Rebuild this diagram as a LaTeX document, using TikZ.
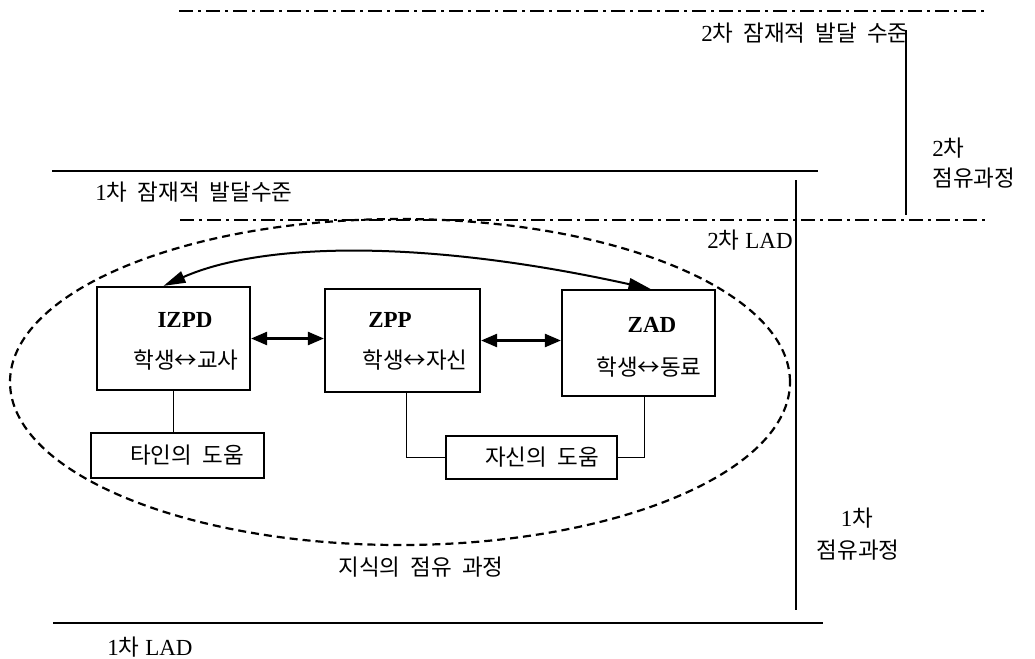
\documentclass[tikz,border=0pt]{standalone}
\usepackage{fontspec}
\setmainfont{Liberation Serif}
\newfontfamily\kr[WordSpace=2]{Noto Sans CJK KR}
\newcommand{\K}[1]{{\kr\fontsize{11.25}{14}\selectfont #1}}
\usetikzlibrary{arrows.meta}
\begin{document}
\begin{tikzpicture}[x=0.5pt,y=-0.5pt,
  every node/.style={font=\fontsize{11.5}{14}\selectfont, inner sep=0pt},
  boxstyle/.style={draw, line width=1.1pt, inner sep=0pt},
  lvl/.style={line width=1pt},
  dashdot/.style={line width=1pt, dash pattern=on 7pt off 2.5pt on 1.5pt off 2.5pt},
  dblarrow/.style={line width=1.2pt, {Triangle[length=8pt,width=6.5pt]}-{Triangle[length=8pt,width=6.5pt]}},
  curvearrow/.style={line width=1pt, {Triangle[length=11pt,width=6pt]}-{Triangle[length=11pt,width=6pt]}},
  helpline/.style={line width=0.8pt},
  zone/.style={line width=1.1pt, dash pattern=on 4pt off 2.5pt}
]
\useasboundingbox (0,0) rectangle (1035,659);

% level lines
\draw[dashdot] (179,11) -- (989,11);
\draw[lvl] (906,30) -- (906,215);
\draw[lvl] (52,171) -- (818,171);
\draw[dashdot] (180,220) -- (989,220);
\draw[lvl] (796,180) -- (796,610);
\draw[lvl] (53,623) -- (823,623);

% ellipse
\draw[zone] (400,382) ellipse [x radius=195pt, y radius=81.5pt];

% labels
\node (l2lvl) at (805,33) {2\K{차 잠재적 발달 수준}};
\node[anchor=west] (l2a) at (932,148) {2\K{차}};
\node[anchor=west] (l2b) at (932,178) {\K{점유과정}};
\node[anchor=west] (l1lvl) at (95,192) {1\K{차 잠재적 발달수준}};
\node (l2lad) at (750,240) {2\K{차} LAD};
\node (l1a) at (857,518) {1\K{차}};
\node (l1b) at (858,550) {\K{점유과정}};
\node (know) at (421,567) {\K{지식의 점유 과정}};
\node (l1lad) at (150,647) {1\K{차} LAD};

% boxes
\node[boxstyle, minimum width=76.5pt, minimum height=51.5pt] (izpd) at (173.5,338.5) {};
\node[boxstyle, minimum width=77.5pt, minimum height=51.5pt] (zpp) at (402.5,340.5) {};
\node[boxstyle, minimum width=76.5pt, minimum height=53pt] (zad) at (638.5,343) {};
\node[boxstyle, minimum width=86.5pt, minimum height=22.5pt] (tain) at (177.5,455.5) {};
\node[boxstyle, minimum width=85.5pt, minimum height=21.5pt] (jasin) at (531.5,457.5) {};

% box texts
\node (izpdt) at (185,320) {\textbf{IZPD}};
\node (izpds) at (186,360) {\K{학생↔교사}};
\node (zppt) at (390,320) {\textbf{ZPP}};
\node (zpps) at (415,360) {\K{학생↔자신}};
\node (zadt) at (652,325) {\textbf{ZAD}};
\node (zads) at (649,367) {\K{학생↔동료}};
\node (taint) at (187,455) {\K{타인의 도움}};
\node (jasint) at (542,457) {\K{자신의 도움}};

% connectors
\draw[dblarrow] (izpd.east) -- (izpd.east -| zpp.west);
\draw[dblarrow] (zpp.east) -- (zpp.east -| zad.west);
\draw[curvearrow] ([xshift=-5pt]izpd.north) .. controls (260,243) and (420,238) .. ([xshift=6pt]zad.north);
\draw[helpline] (izpd.south) -- (izpd.south |- tain.north);
\draw[helpline] ([xshift=2pt]zpp.south) |- (jasin.west);
\draw[helpline] (jasin.east) -| ([xshift=3pt]zad.south);
\end{tikzpicture}
\end{document}
